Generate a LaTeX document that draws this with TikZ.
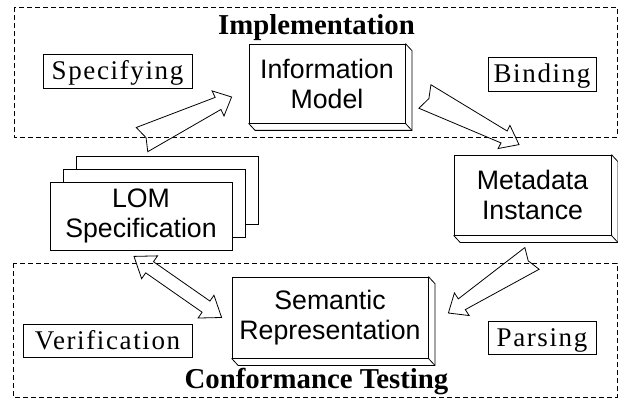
\documentclass[tikz,border=0pt]{standalone}
\usepackage{fontspec}
\setmainfont{Liberation Serif}
\newfontfamily\boxfont{Liberation Sans}
\newfontfamily\labelfont[LetterSpace=6]{Liberation Serif}
\usetikzlibrary{calc}
\usetikzlibrary{shadows}

\newcommand{\boxDepth}[1]{%
	\draw[depthStyle] (#1.north east) -- ++(6.5,7) -- ($(#1.south east)+(6.5,7)$) -- ($(#1.south west)+(6.5,7)$) -- (#1.south west);
	\draw[depthStyle] (#1.south east) -- ++(6.5,7);
}
\newcommand{\fatArrow}[6]{%
	\coordinate (neck) at ($(#2)!#6!(#1)$);
	\draw[arrowStyle] ($(#1)!#3!90:(#2)$) -- ($(#1)!4.5pt!(#2)$) -- ($(#1)!#3!-90:(#2)$) -- ($(neck)!#4!-90:(#2)$) -- ($(neck)!#5!-90:(#2)$) -- (#2) -- ($(neck)!#5!90:(#2)$) -- ($(neck)!#4!90:(#2)$) -- cycle;
}
\newcommand{\fatDoubleArrow}[5]{%
	\coordinate (neckA) at ($(#1)!#5!(#2)$);
	\coordinate (neckB) at ($(#2)!#5!(#1)$);
	\draw[arrowStyle] (#1) -- ($(neckA)!#4!90:(#2)$) -- ($(neckA)!#3!90:(#2)$) -- ($(neckB)!#3!90:(#2)$) -- ($(neckB)!#4!90:(#2)$) -- (#2) -- ($(neckB)!#4!-90:(#2)$) -- ($(neckB)!#3!-90:(#2)$) -- ($(neckA)!#3!-90:(#2)$) -- ($(neckA)!#4!-90:(#2)$) -- cycle;
}

\begin{document}
\begin{tikzpicture}[x=1pt, y=-1pt]
	\tikzstyle{frameStyle}=[draw, dash pattern=on 5pt off 3pt, line width=0.7pt]
	\tikzstyle{modelStyle}=[draw, fill=white, line width=0.8pt, font=\boxfont\fontsize{26.7}{30}\selectfont, align=center, inner sep=0pt]
	\tikzstyle{depthStyle}=[line width=0.8pt]
	\tikzstyle{stepStyle}=[draw, line width=0.8pt, font=\labelfont\fontsize{27}{30}\selectfont, inner sep=0pt, text height=18pt, text depth=0pt]
	\tikzstyle{titleStyle}=[font=\bfseries\fontsize{28.8}{30}\selectfont, inner sep=0pt, anchor=base]
	\tikzstyle{arrowStyle}=[line width=0.8pt, line join=miter]
	\useasboundingbox (0,0) rectangle (618,398);
	\draw[frameStyle] (14,7) rectangle (617,137);
	\draw[frameStyle] (13,263) rectangle (617,397);
	\node[titleStyle] (impl) at (316.5,35) {Implementation};
	\node[titleStyle] (conf) at (316.5,388) {Conformance Testing};
	\node[stepStyle, minimum width=149pt, minimum height=34pt] (spec) at (117.5,71) {Specifying};
	\node[stepStyle, minimum width=108pt, minimum height=34pt] (bind) at (542,74) {Binding};
	\node[stepStyle, minimum width=169pt, minimum height=33pt] (verif) at (107.5,340.5) {Verification};
	\node[stepStyle, minimum width=108pt, minimum height=33pt] (pars) at (542,337.5) {Parsing};
	\node[modelStyle, minimum width=156pt, minimum height=79pt] (info) at (327,83.5) {Information\\Model};
	\node[modelStyle, minimum width=157pt, minimum height=80pt] (meta) at (532.5,195) {Metadata\\Instance};
	\node[modelStyle, minimum width=196pt, minimum height=81pt] (sem) at (330,317.5) {Semantic\\Representation};
	\node[modelStyle, minimum width=182pt, minimum height=68pt,
		copy shadow={shadow xshift=26pt, shadow yshift=26pt, draw=black, fill=white},
		copy shadow={shadow xshift=13pt, shadow yshift=13pt, draw=black, fill=white}] (lom) at (141,216) {LOM\\Specification};
	\boxDepth{info}
	\boxDepth{meta}
	\boxDepth{sem}
	\coordinate (specTail) at ($(lom.north)+(1,-42)$);
	\coordinate (specTip) at ($(info.west)+(-17,13.5)$);
	\fatArrow{specTail}{specTip}{13.4pt}{6.7pt}{13.9pt}{15pt}
	\coordinate (bindTail) at ($(info.east)+(19.5,13)$);
	\coordinate (bindTip) at ($(meta.north)+(-13.5,-10)$);
	\fatArrow{bindTail}{bindTip}{13.2pt}{6.7pt}{13pt}{16.8pt}
	\coordinate (parsTail) at ($(meta.south)+(-0.5,23)$);
	\coordinate (parsTip) at ($(sem.east)+(20,-4.5)$);
	\fatArrow{parsTail}{parsTip}{13pt}{6.4pt}{13.5pt}{16pt}
	\coordinate (verifA) at ($(lom.south)+(-7,6)$);
	\coordinate (verifB) at ($(sem.west)+(-10,0)$);
	\fatDoubleArrow{verifA}{verifB}{6.8pt}{13.9pt}{19pt}
\end{tikzpicture}
\end{document}
